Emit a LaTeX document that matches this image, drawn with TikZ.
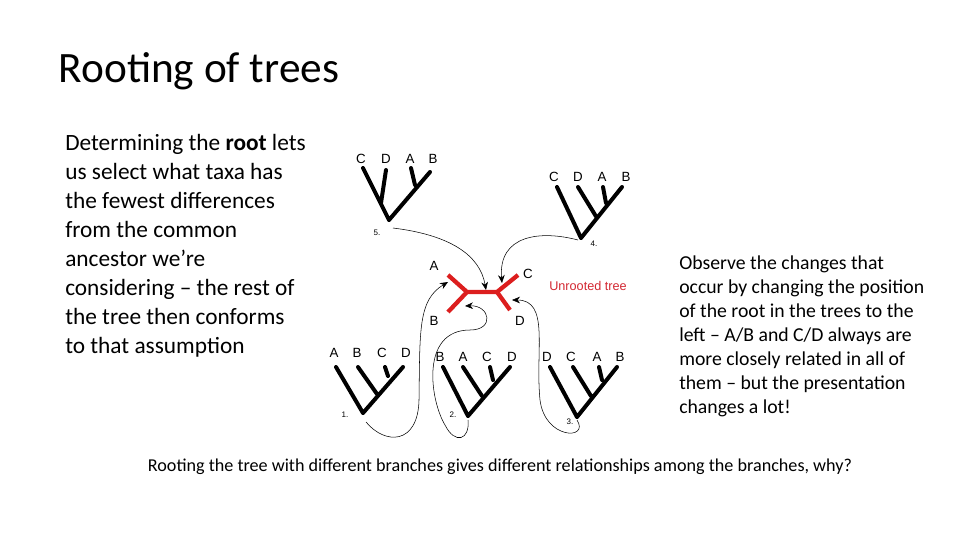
\documentclass[tikz,border=0pt]{standalone}
\usepackage{fontspec}
\setmainfont{Carlito}
\newfontfamily\arialf{Liberation Sans}
\usetikzlibrary{arrows.meta}
\begin{document}
\begin{tikzpicture}[x=0.75pt,y=-0.75pt,
  br/.style={line width=3pt,line cap=round},
  rb/.style={line width=3.2pt,draw={rgb,255:red,220;green,30;blue,30}},
  lf/.style={font=\arialf\fontsize{10}{12}\selectfont},
  num/.style={font=\arialf\fontsize{6}{7}\selectfont},
  arr/.style={thin,-{Stealth[length=6pt,width=5pt]}}]
\useasboundingbox (0,0) rectangle (960,540);
\node[anchor=base west,font=\fontsize{32.5}{38}\selectfont] (title) at (54,82) {Rooting of trees};
\node[anchor=north west,align=left,inner sep=0pt,font=\fontsize{17.5}{21.75}\selectfont] (left) at (65,134)
 {Determining the \textbf{root} lets\\us select what taxa has\\the fewest differences\\from the common\\ancestor we’re\\considering – the rest of\\the tree then conforms\\to that assumption};
\node[anchor=north west,align=left,inner sep=0pt,font=\fontsize{14.8}{18}\selectfont] (right) at (679,256)
 {Observe the changes that\\occur by changing the position\\of the root in the trees to the\\left – A/B and C/D always are\\more closely related in all of\\them – but the presentation\\changes a lot!};
\node[anchor=base,font=\fontsize{13.6}{16}\selectfont] (bottom) at (500,471)
 {Rooting the tree with different branches gives different relationships among the branches, why?};

% tree 5
\coordinate (r5) at (389,220);
\draw[br] (r5)--(363,168) (381,203)--(386,170) (r5)--(430,172) (415,185)--(411,168);
\foreach \t/\x in {C/361,D/386,A/410,B/433}\node[lf] (l5\t) at (\x,159) {\t};
\node[num] (n5) at (377,233) {5.};
% tree 4
\coordinate (r4) at (581,238);
\draw[br] (r4)--(557,187) (r4)--(622,187) (597,218)--(578,187) (606,203)--(603,187);
\foreach \t/\x in {C/554,D/578,A/602,B/626}\node[lf] (l4\t) at (\x,177) {\t};
\node[num] (n4) at (594,244) {4.};
% tree 1
\coordinate (r1) at (363,413);
\draw[br] (r1)--(336,367) (r1)--(403,367) (377,394)--(358,367) (388,376)--(385,367);
\foreach \t/\x in {A/334,B/357,C/382,D/406}\node[lf] (l1\t) at (\x,353) {\t};
\node[num] (n1) at (345,415) {1.};
% tree 2
\coordinate (r2) at (468,416);
\draw[br] (r2)--(443,367) (r2)--(510,367) (482,396)--(463,367) (493,380)--(490,367);
\foreach \t/\x in {B/440,A/463,C/487,D/512}\node[lf] (l2\t) at (\x,357) {\t};
\node[num] (n2) at (453,415) {2.};
% tree 3
\coordinate (r3) at (577,417);
\draw[br] (r3)--(550,367) (r3)--(617,367) (591,396)--(573,367) (602,380)--(599,367);
\foreach \t/\x in {D/547,C/571,A/597,B/620}\node[lf] (l3\t) at (\x,357) {\t};
\node[num] (n3) at (570,422) {3.};

% unrooted tree
\coordinate (ua) at (467,292); \coordinate (ub) at (497,292);
\draw[rb] (448,275)--(ua)--(448,312) (ua)--(ub) (518,275)--(ub)--(510,310);
\node[lf] (ulA) at (434,266) {A};
\node[lf] (ulB) at (434,321) {B};
\node[lf] (ulC) at (528,274) {C};
\node[lf] (ulD) at (520,321) {D};
\node[font=\arialf\fontsize{9.5}{11}\selectfont,text={rgb,255:red,210;green,40;blue,50}] (ut) at (588,286) {Unrooted tree};

% arrows
\draw[arr] (393,228) .. controls (450,235) and (480,255) .. (486,290);
\draw[arr] (578,240) .. controls (540,230) and (498,235) .. (502,283);
\draw[arr] (366,422) .. controls (385,445) and (418,445) .. (419,400)
   .. controls (420,330) and (418,300) .. (448,282);
\draw[arr] (468,420) .. controls (470,440) and (455,445) .. (445,425)
   .. controls (430,400) and (420,330) .. (470,330)
   .. controls (495,330) and (490,305) .. (465,306);
\draw[arr] (577,420) .. controls (590,440) and (545,440) .. (540,400)
   .. controls (535,350) and (550,300) .. (512,300);
\end{tikzpicture}
\end{document}
